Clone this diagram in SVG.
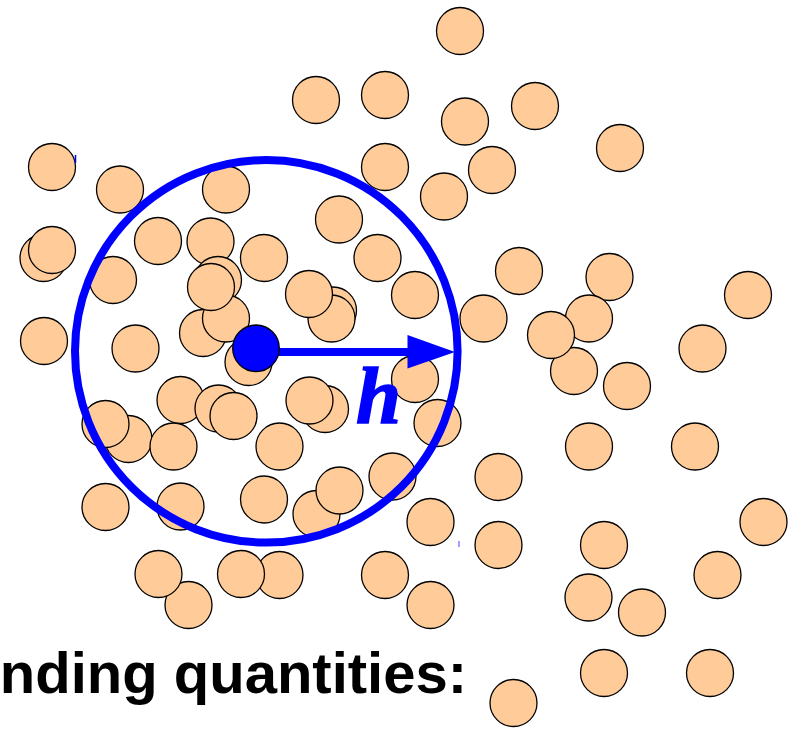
<svg xmlns="http://www.w3.org/2000/svg" width="795" height="731" viewBox="0 0 795 731">
<style>
.p{fill:#ffcc99;stroke:#000;stroke-width:1.3}
.lbl{font-family:"Liberation Sans",Arial,sans-serif;font-weight:bold;font-size:58px;fill:#000}
.h{font-family:"Liberation Serif","Times New Roman",serif;font-weight:bold;font-style:italic;font-size:81px;fill:#0000ff;stroke:#0000ff;stroke-width:1.5}
</style>
<rect width="795" height="731" fill="#fff"/>
<g id="particles">
<circle class="p" cx="460" cy="31" r="23.5"/>
<circle class="p" cx="316" cy="100" r="23.5"/>
<circle class="p" cx="385" cy="95" r="23.5"/>
<circle class="p" cx="465" cy="121.5" r="23.5"/>
<circle class="p" cx="535" cy="106" r="23.5"/>
<circle class="p" cx="620" cy="148" r="23.5"/>
<circle class="p" cx="52" cy="167" r="23.5"/>
<circle class="p" cx="120" cy="189.5" r="23.5"/>
<circle class="p" cx="226" cy="189.5" r="23.5"/>
<circle class="p" cx="385" cy="167" r="23.5"/>
<circle class="p" cx="492" cy="170" r="23.5"/>
<circle class="p" cx="444" cy="196.5" r="23.5"/>
<circle class="p" cx="339" cy="219.5" r="23.5"/>
<circle class="p" cx="158" cy="241" r="23.5"/>
<circle class="p" cx="210.5" cy="241.5" r="23.5"/>
<circle class="p" cx="264" cy="258" r="23.5"/>
<circle class="p" cx="377.5" cy="258" r="23.5"/>
<circle class="p" cx="43.5" cy="258" r="23.5"/>
<circle class="p" cx="52" cy="250" r="23.5"/>
<circle class="p" cx="113" cy="280" r="23.5"/>
<circle class="p" cx="218" cy="280" r="23.5"/>
<circle class="p" cx="203" cy="333" r="23.5"/>
<circle class="p" cx="226" cy="318.5" r="23.5"/>
<circle class="p" cx="211" cy="287" r="23.5"/>
<circle class="p" cx="333" cy="310.5" r="23.5"/>
<circle class="p" cx="331.5" cy="318.5" r="23.5"/>
<circle class="p" cx="309" cy="294" r="23.5"/>
<circle class="p" cx="415" cy="295" r="23.5"/>
<circle class="p" cx="519" cy="271" r="23.5"/>
<circle class="p" cx="609.5" cy="277" r="23.5"/>
<circle class="p" cx="748" cy="295" r="23.5"/>
<circle class="p" cx="483.5" cy="318.5" r="23.5"/>
<circle class="p" cx="589" cy="318.5" r="23.5"/>
<circle class="p" cx="574" cy="371" r="23.5"/>
<circle class="p" cx="551" cy="335" r="23.5"/>
<circle class="p" cx="44" cy="341" r="23.5"/>
<circle class="p" cx="135.5" cy="348.5" r="23.5"/>
<circle class="p" cx="248.5" cy="362" r="23.5"/>
<circle class="p" cx="702.5" cy="348.5" r="23.5"/>
<circle class="p" cx="627" cy="386" r="23.5"/>
<circle class="p" cx="415" cy="379" r="23.5"/>
<circle class="p" cx="180.5" cy="400" r="23.5"/>
<circle class="p" cx="218.5" cy="408.5" r="23.5"/>
<circle class="p" cx="233.5" cy="416" r="23.5"/>
<circle class="p" cx="325" cy="409" r="23.5"/>
<circle class="p" cx="309.5" cy="400.5" r="23.5"/>
<circle class="p" cx="128.5" cy="439" r="23.5"/>
<circle class="p" cx="105.5" cy="424" r="23.5"/>
<circle class="p" cx="173.5" cy="446.5" r="23.5"/>
<circle class="p" cx="279.5" cy="446.5" r="23.5"/>
<circle class="p" cx="437.5" cy="423" r="23.5"/>
<circle class="p" cx="589" cy="446.5" r="23.5"/>
<circle class="p" cx="695" cy="446.5" r="23.5"/>
<circle class="p" cx="498.5" cy="477" r="23.5"/>
<circle class="p" cx="392.5" cy="476.5" r="23.5"/>
<circle class="p" cx="105.5" cy="507" r="23.5"/>
<circle class="p" cx="180.5" cy="506.5" r="23.5"/>
<circle class="p" cx="264" cy="499.5" r="23.5"/>
<circle class="p" cx="316.5" cy="514" r="23.5"/>
<circle class="p" cx="339.5" cy="490.5" r="23.5"/>
<circle class="p" cx="430.5" cy="522" r="23.5"/>
<circle class="p" cx="763.5" cy="522" r="23.5"/>
<circle class="p" cx="498.5" cy="545" r="23.5"/>
<circle class="p" cx="604" cy="545" r="23.5"/>
<circle class="p" cx="188.5" cy="605" r="23.5"/>
<circle class="p" cx="158.5" cy="574" r="23.5"/>
<circle class="p" cx="279.5" cy="575" r="23.5"/>
<circle class="p" cx="241" cy="574" r="23.5"/>
<circle class="p" cx="385" cy="575" r="23.5"/>
<circle class="p" cx="717.5" cy="575" r="23.5"/>
<circle class="p" cx="588.5" cy="597.5" r="23.5"/>
<circle class="p" cx="642" cy="612.5" r="23.5"/>
<circle class="p" cx="430.5" cy="605" r="23.5"/>
<circle class="p" cx="604" cy="673" r="23.5"/>
<circle class="p" cx="710" cy="673" r="23.5"/>
<circle class="p" cx="513.5" cy="703" r="23.5"/>
</g>
<g id="kernel">
<circle cx="266.3" cy="351.3" r="191.3" fill="none" stroke="#0000ff" stroke-width="8"/>
<line x1="75.5" y1="155" x2="75.5" y2="163" stroke="#0000ff" stroke-width="1.5"/>
<line x1="459" y1="541" x2="459" y2="547" stroke="#8080ff" stroke-width="1.5"/>
</g>
<g id="connectors">
<line x1="256" y1="352" x2="410" y2="352" stroke="#0000ff" stroke-width="8"/>
<polygon points="407.5,335 455,352 407.5,368.5" fill="#0000ff"/>
</g>
<g id="center">
<circle cx="256" cy="348.3" r="23.3" fill="#0000ff" stroke="#000" stroke-width="1.3"/>
</g>
<text class="h" x="356" y="423">h</text>
<text class="lbl" x="467" y="693" text-anchor="end">nding quantities:</text>
</svg>
